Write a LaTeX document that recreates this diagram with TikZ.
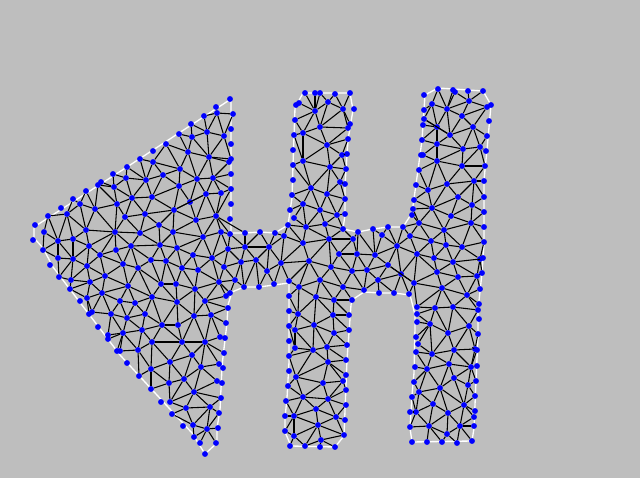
\documentclass[tikz,border=0pt]{standalone}
\usepackage{tikz}
\definecolor{bggray}{RGB}{190,190,190}
\tikzset{
  vertex/.style={circle, fill=blue, inner sep=0pt, minimum size=4.4pt},
  meshline/.style={black, line width=0.8pt},
  outline/.style={white, line width=1pt}
}
\newcount\vtotal
\newcount\vthird
\newcount\cotleft
\newcount\cotright
\newcount\cotval
\newcount\crossp
\newcount\dotp
\newif\ifgap
\def\rimtag{r}
\def\lonetag{o}
\newcommand{\vx}[1]{\csname vx#1\endcsname}
\newcommand{\vy}[1]{\csname vy#1\endcsname}
\newcommand{\vk}[1]{\csname vk#1\endcsname}
\newcommand{\checkgap}{%
  \gapfalse
  \edef\mx{\the\numexpr\xa+\xb\relax}\edef\my{\the\numexpr\ya+\yb\relax}%
  \ifnum\mx>464 \ifnum\mx<572
    \ifnum\my<462 \gaptrue\fi
    \ifnum\my>578 \gaptrue\fi
  \fi\fi
  \ifnum\mx>696 \ifnum\mx<820
    \ifnum\my<452 \gaptrue\fi
    \ifnum\my>592 \gaptrue\fi
  \fi\fi
}
\newcommand{\meshedge}[2]{%
  \edef\xa{\vx{#1}}\edef\ya{\vy{#1}}\edef\xb{\vx{#2}}\edef\yb{\vy{#2}}%
  \ifnum\numexpr\vk{#1}+\vk{#2}\relax<2
  \ifnum\numexpr(\xa-\xb)*(\xa-\xb)+(\ya-\yb)*(\ya-\yb)\relax<1444
    \checkgap
    \ifgap\else
      \cotleft=1000000000 \cotright=1000000000 \vthird=0
      \loop\ifnum\vthird<\vtotal
        \advance\vthird 1
        \edef\xc{\vx{\the\vthird}}\edef\yc{\vy{\the\vthird}}%
        \ifnum\vk{\the\vthird}<2
        \ifnum\numexpr(\xc-\xa)*(\xc-\xa)+(\yc-\ya)*(\yc-\ya)\relax<6400
          \crossp=\numexpr(\xa-\xc)*(\yb-\yc)-(\ya-\yc)*(\xb-\xc)\relax
          \dotp=\numexpr(\xa-\xc)*(\xb-\xc)+(\ya-\yc)*(\yb-\yc)\relax
          \ifnum\crossp>0
            \cotval=\numexpr\dotp*1000/\crossp\relax
            \ifnum\cotval<\cotleft \cotleft=\cotval\fi
          \else\ifnum\crossp<0
            \cotval=\numexpr-\dotp*1000/\crossp\relax
            \ifnum\cotval<\cotright \cotright=\cotval\fi
          \fi\fi
        \fi
        \fi
      \repeat
      \ifnum\numexpr\cotleft+\cotright\relax<0 \else
        \draw[meshline] (v#1) -- (v#2);
      \fi
    \fi
  \fi
  \fi
}

\begin{document}
\begin{tikzpicture}[x=0.75pt, y=-0.75pt]

  \fill[bggray] (0, 0) rectangle (640, 478);

  \draw[outline] (231, 99) -- (231, 232) -- (232, 233) -- (245, 233) -- (260, 232) -- (275, 233)
    -- (288, 225) -- (292, 198) -- (293, 165) -- (295, 108) -- (303, 93) -- (350, 93) -- (353, 110)
    -- (348, 140) -- (345, 185) -- (345, 215) -- (343, 229) -- (358, 232) -- (373, 229) -- (388, 227)
    -- (403, 227) -- (412, 213) -- (418, 170) -- (422, 140) -- (424, 110) -- (425, 95) -- (438, 88)
    -- (483, 91) -- (491, 105) -- (487, 150) -- (484, 180) -- (484, 243) -- (482, 273) -- (478, 310)
    -- (478, 335) -- (474, 428) -- (472, 441) -- (412, 442) -- (410, 428) -- (412, 395) -- (414, 373)
    -- (415, 328) -- (415, 315) -- (410, 295) -- (394, 293) -- (379, 293) -- (364, 292) -- (352, 300)
    -- (351, 305) -- (347, 360) -- (344, 436) -- (335, 447) -- (291, 446) -- (285, 432) -- (285, 418)
    -- (287, 398) -- (289, 362) -- (289, 283) -- (274, 285) -- (259, 287) -- (244, 287) -- (232, 292)
    -- (228, 305) -- (227, 323) -- (223, 357) -- (222, 367) -- (220, 410) -- (217, 428) -- (217, 443)
    -- (205, 454) -- (192, 433) -- (120, 355) -- (53, 267) -- (43, 248) -- (34, 238) -- (34, 227)
    -- (127, 167) -- cycle;

  \foreach \x/\y/\kind [count=\n] in {
    127/167/r, 113/174/r, 126/178, 101/182/r, 98/185/r, 114/187, 86/191/r, 132/198, 73/199/r, 80/204, 117/204,
    61/208/o, 95/209, 67/214, 48/216/r, 125/217, 35/225/o, 86/230, 115/232, 44/232, 33/240/o, 58/241, 73/239,
    89/246, 131/246, 116/250, 43/250/r, 100/255, 58/258, 73/259, 50/265/o, 87/266, 123/264, 138/268, 105/276,
    59/277/r, 71/280, 90/282, 128/286, 70/289/r, 102/293, 87/298, 80/301/o, 120/301, 135/303, 92/312/r,
    89/314/r, 111/314, 145/314, 127/318, 98/327/o, 142/330, 123/333, 108/335/r, 108/339/r, 117/351/r,
    120/351/r, 138/350, 127/363/o, 139/376/r, 151/369, 230/99/o, 216/107/r, 217/113, 233/114/r, 204/116/r,
    191/124/r, 231/129/o, 207/132, 179/134/r, 224/136, 192/137, 166/144/r, 231/144/o, 153/151/o, 188/152,
    209/157, 231/159/r, 229/162/r, 140/159/r, 153/162, 180/169, 231/174/r, 163/175, 146/180, 197/179, 213/178,
    179/186, 231/189/r, 221/193, 206/194, 152/197, 190/202, 231/204/o, 174/210, 145/214, 196/220, 216/216,
    230/219/o, 159/225, 173/232, 140/233, 221/232, 230/234/r, 203/237, 160/245, 177/248, 228/249, 193/255,
    212/258, 151/260, 166/261, 224/267, 182/268, 198/270, 235/280, 219/282, 161/284, 176/284, 195/289,
    230/293/r, 226/296/r, 152/297, 205/301, 177/302, 228/308/r, 194/316, 211/315, 226/323/r, 162/325, 178/325,
    220/337/r, 225/338/o, 152/342, 182/342, 205/342, 224/353/r, 192/355, 170/362, 219/364/r, 201/367,
    223/368/o, 184/379, 217/381/r, 222/383/o, 169/383, 151/389/r, 194/392, 221/398/r, 161/402/o, 170/402/r,
    186/408, 210/407, 172/414/r, 219/413/r, 193/425, 183/426/o, 207/429, 218/428/r, 194/437/r, 200/443/r,
    216/443/r, 205/454/o,
    305/93/r, 315/93/r, 320/93/r, 335/94/r, 350/93/r, 328/102, 299/103/r, 296/105/r, 343/109, 354/109/r,
    315/111, 295/120/r, 350/124/r, 348/128/r, 320/127, 303/133, 294/135/r, 348/139/r, 327/145, 293/150/o,
    342/155, 347/154/r, 303/161, 293/165/r, 330/167, 346/169/r, 293/180/o, 340/182, 345/184/r, 311/188,
    327/194, 292/195/r, 345/199/r, 303/204, 320/210, 290/210/r, 345/214/r, 337/215, 294/218/r, 288/225/r,
    306/227, 325/224, 343/229/r, 358/232/r,
    245/233/r, 260/232/r, 275/233/r, 284/236, 329/239, 353/239, 303/243, 245/247, 269/247, 339/254, 256/260,
    241/262, 281/263, 309/261, 331/267, 352/271, 267/271, 289/281/r, 320/280, 244/287/r, 259/287/r, 274/284/r,
    299/287, 343/287, 289/296/r, 316/297, 334/300, 352/300/r, 289/311/r, 298/314, 333/315, 349/315/r,
    289/326/r, 314/325, 295/330, 349/330/r, 334/333, 289/341/o, 327/347, 347/345/r, 295/348, 313/350,
    289/356/r, 346/360/r, 328/362, 289/371/o, 346/375/r, 296/377, 323/383, 343/381, 288/386/r, 346/390/r,
    303/397, 328/399, 286/401/r, 346/405/r, 316/409, 336/417, 285/416/r, 294/416, 345/420/r, 318/425,
    285/431/r, 344/435/r, 294/436, 321/440, 290/446/r, 305/446/r, 320/447/r, 335/447/r,
    413/209/r, 412/215/r, 451/216, 484/212/r, 419/223, 471/223, 484/227/r, 373/229/r, 388/227/r, 403/227/r,
    444/230, 382/235, 410/236, 431/241, 484/242/r, 397/246, 446/245, 462/247, 357/254, 375/255, 417/254,
    434/258, 480/259, 483/258/r, 388/265, 453/262, 367/270, 437/272, 401/274, 482/273/r, 477/276, 458/277,
    378/280, 414/283, 442/288, 480/289/r, 364/290/r, 379/293/r, 394/293/r, 409/294/r, 467/295, 479/304/r,
    438/89/r, 453/90/r, 455/92/r, 468/91/r, 483/91/r, 424/95/o, 469/101, 432/104, 491/105/r, 487/107/r, 447/109,
    424/110/r, 462/116, 424/119/r, 489/121/o, 423/125/r, 437/127, 473/127, 450/135, 487/136/r, 422/140/r,
    437/144, 480/147, 463/149, 486/151/r, 421/155/r, 423/155/r, 437/161, 462/166, 485/166/r, 419/170/r,
    474/181, 484/181/r, 447/184, 416/185/r, 428/190, 458/197, 484/197/r, 414/200/r, 472/205, 432/208,
    435/308, 453/307, 417/307/r, 478/310/r, 417/314/r, 479/319/o, 417/322/r, 430/324, 469/326, 448/333,
    478/334/r, 416/337/r, 418/344/r, 475/349, 477/350/r, 454/350, 416/352/r, 432/354, 415/367/r, 427/369,
    449/364, 471/367, 477/366/r, 454/378, 414/382/r, 476/381/r, 468/385, 440/388, 419/392, 412/397/r,
    475/396/r, 433/404, 464/405, 410/412/r, 416/412, 475/411/r, 448/413, 474/417/r, 474/426/r, 410/427/r,
    429/426, 460/426, 447/434, 412/442/r, 427/442/r, 442/442/r, 457/443/r, 472/441/r} {
    \node[vertex] (v\n) at (\x, \y) {};
    \expandafter\xdef\csname vx\n\endcsname{\x}
    \expandafter\xdef\csname vy\n\endcsname{\y}
    \ifx\kind\rimtag
      \expandafter\gdef\csname vk\n\endcsname{1}
    \else\ifx\kind\lonetag
      \expandafter\gdef\csname vk\n\endcsname{2}
    \else
      \expandafter\gdef\csname vk\n\endcsname{0}
    \fi\fi
    \global\vtotal=\n
  }

  \pgfmathtruncatemacro{\vlast}{\vtotal - 1}
  \foreach \a in {1, ..., \vlast} {
    \pgfmathtruncatemacro{\vnext}{\a + 1}
    \foreach \b in {\vnext, ..., \the\vtotal} {
      \meshedge{\a}{\b}
    }
  }

\end{tikzpicture}
\end{document}
